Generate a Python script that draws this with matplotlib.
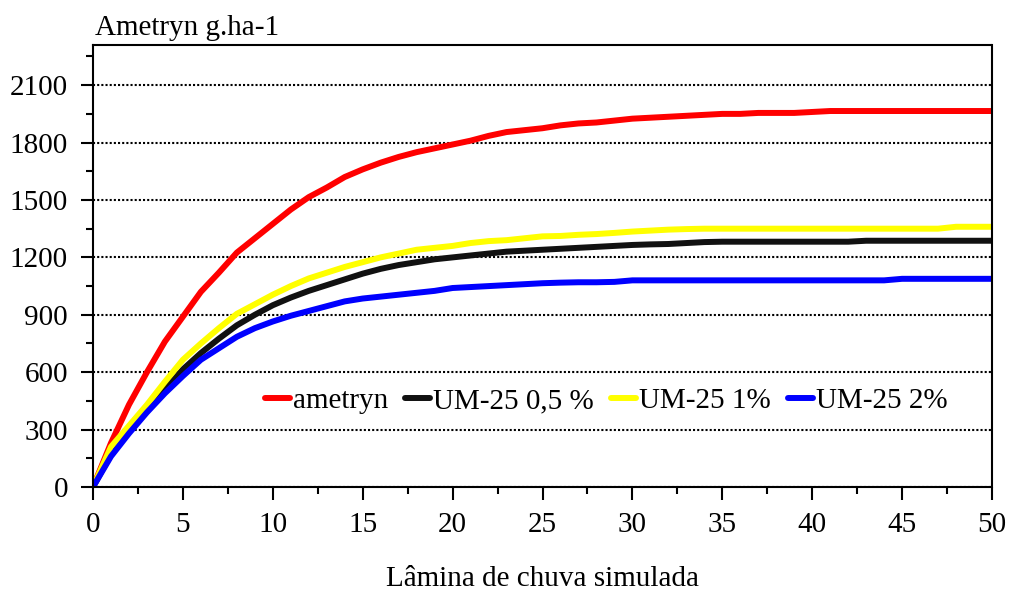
import numpy as np
import matplotlib
matplotlib.use('Agg')
import matplotlib.pyplot as plt
from matplotlib.ticker import MultipleLocator

plt.rcParams['font.family'] = ['Liberation Serif', 'DejaVu Serif']

# rainfall depth (x) and cumulative ametryn loss (g/ha)
lamina = list(range(0, 51))

ametryn = [0, 230, 430, 600, 760, 890, 1020, 1120, 1225, 1300,
           1375, 1450, 1515, 1565, 1620, 1660, 1695, 1725, 1750, 1770,
           1790, 1810, 1835, 1855, 1865, 1875, 1890, 1900, 1905, 1915,
           1925, 1930, 1935, 1940, 1945, 1950, 1950, 1955, 1955, 1955,
           1960, 1965, 1965, 1965, 1965, 1965, 1965, 1965, 1965, 1965,
           1965]
um25_05 = [0, 170, 295, 405, 510, 615, 700, 775, 845, 900,
           950, 990, 1025, 1055, 1085, 1115, 1140, 1160, 1175, 1190,
           1200, 1210, 1220, 1230, 1235, 1240, 1245, 1250, 1255, 1260,
           1265, 1268, 1270, 1275, 1280, 1282, 1282, 1282, 1282, 1282,
           1282, 1282, 1282, 1287, 1287, 1287, 1287, 1287, 1287, 1287,
           1287]
um25_1 = [0, 210, 320, 430, 550, 665, 750, 830, 905, 955,
          1005, 1050, 1090, 1120, 1150, 1175, 1200, 1220, 1240, 1250,
          1260, 1275, 1285, 1290, 1300, 1310, 1312, 1318, 1322, 1328,
          1335, 1340, 1345, 1348, 1350, 1350, 1350, 1350, 1350, 1350,
          1350, 1350, 1350, 1350, 1350, 1350, 1350, 1350, 1360, 1360,
          1360]
um25_2 = [0, 160, 280, 390, 490, 580, 665, 725, 785, 830,
          865, 895, 920, 945, 970, 985, 995, 1005, 1015, 1025,
          1040, 1045, 1050, 1055, 1060, 1065, 1068, 1070, 1070, 1072,
          1080, 1080, 1080, 1080, 1080, 1080, 1080, 1080, 1080, 1080,
          1080, 1080, 1080, 1080, 1080, 1088, 1088, 1088, 1088, 1088,
          1088]

series = [
    ('ametryn', ametryn, '#ff0000'),
    ('UM-25 0,5 %', um25_05, '#111111'),
    ('UM-25 1%', um25_1, '#ffff00'),
    ('UM-25 2%', um25_2, '#0000ff'),
]

fig = plt.figure(figsize=(10.1, 5.9), dpi=100)
ax = fig.add_axes([93 / 1010, 1 - 487 / 590, (992 - 93) / 1010, (487 - 45) / 590])

for name, vals, color in series:
    ax.plot(lamina, vals, color=color, lw=4.3, label=name,
            solid_capstyle='round', solid_joinstyle='round')

ax.set_xlim(0, 50)
ax.set_ylim(0, 2310)
ax.xaxis.set_major_locator(MultipleLocator(5))
ax.xaxis.set_minor_locator(MultipleLocator(2.5))
ax.set_yticks(np.arange(0, 2101, 300))
ax.yaxis.set_minor_locator(MultipleLocator(150))

ax.grid(axis='y', which='major', color='k', linestyle=(0, (1, 1)), lw=1.5)
for sp in ax.spines.values():
    sp.set_linestyle((0, (1, 1)))
    sp.set_linewidth(1.5)

ax.tick_params(which='major', direction='out', length=9, width=1.5,
               labelsize=21, pad=9)
ax.tick_params(which='minor', direction='out', length=5, width=1.5)

ax.set_xlabel('Lâmina de chuva simulada', fontsize=21, labelpad=20)
fig.text(95 / 1010, 1 - 35 / 590, 'Ametryn g.ha-1', fontsize=21,
         ha='left', va='baseline')

ax.legend(loc='center left', bbox_to_anchor=(0.191, 450 / 2310), ncol=4,
          frameon=False, fontsize=21, handlelength=0.85, handletextpad=0.12,
          columnspacing=0.58, borderaxespad=0, borderpad=0)

fig.savefig('out.png', dpi=100)
